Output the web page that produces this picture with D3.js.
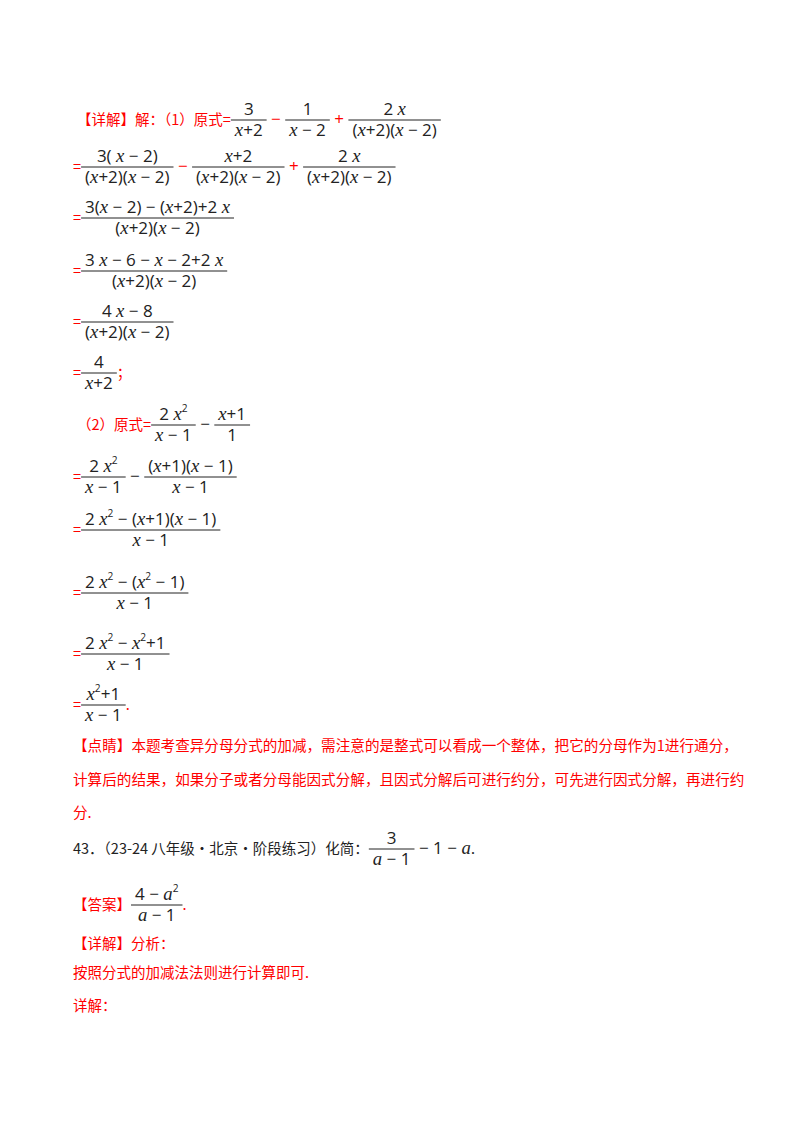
<!DOCTYPE html>
<html><head><meta charset="utf-8">
<script src="https://cdn.jsdelivr.net/npm/d3@7"></script>
<style>body{margin:0;background:#fff} text{white-space:pre}</style>
</head><body>
<svg id="s" width="800" height="1132"></svg>
<script>
const RED = "#ff0000", BLK = "#222";
const mathRows = [
  [120, [{r:"【详解】解：（1）原式="},{f:["3","x+2"]},{ro:"−"},{f:["1","x − 2"]},{ro:"+"},{f:["2 x","(x+2)(x − 2)"]}]],
  [167, [{r:"="},{f:["3( x − 2)","(x+2)(x − 2)"]},{ro:"−"},{f:["x+2","(x+2)(x − 2)"]},{ro:"+"},{f:["2 x","(x+2)(x − 2)"]}]],
  [218, [{r:"="},{f:["3(x − 2) − (x+2)+2 x","(x+2)(x − 2)"]}]],
  [271, [{r:"="},{f:["3 x − 6 − x − 2+2 x","(x+2)(x − 2)"]}]],
  [322, [{r:"="},{f:["4 x − 8","(x+2)(x − 2)"]}]],
  [373, [{r:"="},{f:["4","x+2"]},{r:"；"}]],
  [425, [{r:"（2）原式="},{f:["2 x^2","x − 1"]},{o:"−"},{f:["x+1","1"]}]],
  [477, [{r:"="},{f:["2 x^2","x − 1"]},{o:"−"},{f:["(x+1)(x − 1)","x − 1"]}]],
  [530, [{r:"="},{f:["2 x^2 − (x+1)(x − 1)","x − 1"]}]],
  [593, [{r:"="},{f:["2 x^2 − (x^2 − 1)","x − 1"]}]],
  [654, [{r:"="},{f:["2 x^2 − x^2+1","x − 1"]}]],
  [705, [{r:"="},{f:["x^2+1","x − 1"]},{r:"."}]]
];
const paraLines = [
  [751, "【点睛】本题考查异分母分式的加减，需注意的是整式可以看成一个整体，把它的分母作为1进行通分，"],
  [785, "计算后的结果，如果分子或者分母能因式分解，且因式分解后可进行约分，可先进行因式分解，再进行约"],
  [818, "分."]
];
const tailRows = [
  [849, [{k:"43．（23-24 八年级·北京·阶段练习）化简："},{f:["3","a − 1"]},{o:"− 1 − a."}]],
  [905, [{r:"【答案】"},{f:["4 − a^2","a − 1"]},{r:"."}]]
];
const tailLines = [[949, "【详解】分析："],[978, "按照分式的加减法法则进行计算即可."],[1011, "详解："]];

const svg = d3.select("#s");
const CJK = "'Noto Sans CJK SC', sans-serif";
const MATH = "'Open Sans', 'Liberation Sans', sans-serif";
const FS = 17;

function mathText(g, str, x, y, size, anchor){
  const t = g.append("text").attr("x", x).attr("y", y).attr("font-family", MATH)
    .attr("font-size", size).attr("fill", BLK).attr("text-anchor", anchor||"start");
  let i=0, pend=0;
  const add=(s)=>{ const sp=t.append("tspan").text(s); if(pend){sp.attr("dy",pend);pend=0;} return sp; };
  while(i<str.length){
    const c=str[i];
    if(c==="^"){ add(str[i+1]).attr("dy",-size*0.45).attr("font-size",size*0.6); pend=size*0.45; i+=2; continue; }
    if(/[a-z]/.test(c)) add(c).attr("font-style","italic").attr("font-family","'Liberation Serif', serif").attr("font-size",size*1.1);
    else add(c);
    i++;
  }
  return t;
}
function drawRow(x, bar, items){
  const g = svg.append("g");
  for(const it of items){
    if(it.r!==undefined || it.k!==undefined){
      const t=g.append("text").attr("x",x).attr("y",bar+5).attr("font-family",CJK)
        .attr("font-size",14.5).attr("fill", it.r!==undefined?RED:BLK).text(it.r!==undefined?it.r:it.k);
      x += t.node().getComputedTextLength();
    } else if(it.o!==undefined || it.ro!==undefined){
      const s = it.o!==undefined?it.o:it.ro;
      const t=mathText(g," "+s+" ",x,bar+5,FS);
      if(it.ro!==undefined) t.attr("fill",RED);
      x += t.node().getComputedTextLength();
    } else {
      const tn=mathText(g,it.f[0],0,bar-5,FS,"middle");
      const td=mathText(g,it.f[1],0,bar+16,FS,"middle");
      const w=Math.max(tn.node().getComputedTextLength(),td.node().getComputedTextLength())+8;
      tn.attr("x",x+w/2); td.attr("x",x+w/2);
      g.append("line").attr("x1",x).attr("x2",x+w).attr("y1",bar).attr("y2",bar).attr("stroke",BLK).attr("stroke-width",1);
      x+=w;
    }
  }
}
mathRows.forEach(([y,items],i)=>drawRow(i===0||i===6?77:73,y,items));
paraLines.forEach(([y,s])=>svg.append("text").attr("x",73).attr("y",y).attr("font-family",CJK)
  .attr("font-size",14.6).attr("fill",RED).text(s));
tailRows.forEach(([y,items])=>drawRow(73,y,items));
tailLines.forEach(([y,s])=>svg.append("text").attr("x",73).attr("y",y).attr("font-family",CJK)
  .attr("font-size",14.5).attr("fill",RED).text(s));
</script>
</body></html>
